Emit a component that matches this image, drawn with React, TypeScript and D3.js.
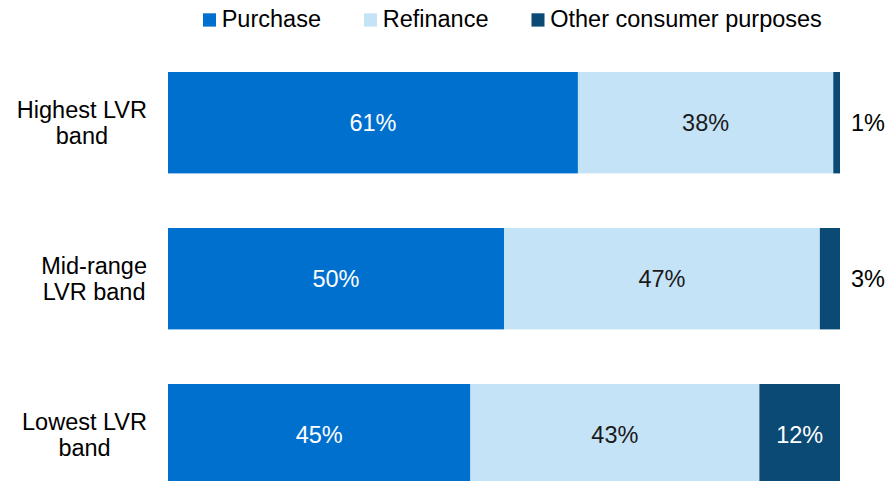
import React from "react";
import * as d3 from "d3";

const categories = [["Highest LVR", "band"], ["Mid-range", "LVR band"], ["Lowest LVR", "band"]];
const seriesNames = ["Purchase", "Refinance", "Other consumer purposes"];
const purchase = [61, 50, 45];
const refinance = [38, 47, 43];
const other = [1, 3, 12];
const colors = ["#0070CE", "#C5E3F7", "#0B4A75"];
const textColors = ["#ffffff", "#1a1a1a", "#ffffff"];

const FS = 23.5;
const font = "Arial, 'Liberation Sans', sans-serif";

function measure(t: string): number {
  const c = document.createElement("canvas").getContext("2d")!;
  c.font = `${FS}px ${font}`;
  return c.measureText(t).width;
}

export default function App() {
  const W = 895, H = 481;
  const x = d3.scaleLinear().domain([0, 100]).range([168, 840]);
  const keys = categories.map((c) => c.join(" "));
  const y = d3.scaleBand().domain(keys).range([44.7, 512.7]).paddingInner(0.35).paddingOuter(0.175);
  const rows = keys.map((k, i) => ({ k, Purchase: purchase[i], Refinance: refinance[i], Other: other[i] }));
  const stack = d3.stack<any>().keys(["Purchase", "Refinance", "Other"])(rows);

  // legend layout
  const legendItems: { x: number; name: string; color: string }[] = [];
  let lx = 203;
  seriesNames.forEach((n, i) => {
    legendItems.push({ x: lx, name: n, color: colors[i] });
    lx += 13 + 5.7 + measure(n) + 43;
  });

  const labelRight = 147;

  return (
    <svg width={W} height={H} style={{ position: "absolute", left: 0, top: 0 }} fontFamily={font}>
      <rect width={W} height={H} fill="#fff" />
      {legendItems.map((it) => (
        <g key={it.name}>
          <rect x={it.x} y={13.3} width={13} height={13.3} fill={it.color} />
          <text x={it.x + 18.7} y={27.3} fontSize={FS} fill="#000">{it.name}</text>
        </g>
      ))}
      {stack.map((s, si) => (
        <g key={si}>
          {s.map((d, di) => {
            const x0 = x(d[0]), x1 = x(d[1]);
            const yy = y(keys[di])!;
            const v = d[1] - d[0];
            const inside = x1 - x0 > 40;
            return (
              <g key={di}>
                <rect x={x0} y={yy} width={x1 - x0} height={y.bandwidth()} fill={colors[si]} />
                <text
                  x={inside ? (x0 + x1) / 2 : 868}
                  y={yy + y.bandwidth() / 2 + 8.2}
                  textAnchor="middle"
                  fontSize={FS}
                  fill={inside ? textColors[si] : "#000"}
                >
                  {v}%
                </text>
              </g>
            );
          })}
        </g>
      ))}
      {categories.map((c, i) => {
        const yy = y(keys[i])! + y.bandwidth() / 2;
        const w = Math.max(...c.map(measure));
        const cx = labelRight - w / 2;
        return (
          <text key={i} textAnchor="middle" fontSize={FS} fill="#000">
            <tspan x={cx} y={yy - 5.2}>{c[0]}</tspan>
            <tspan x={cx} y={yy + 21.5}>{c[1]}</tspan>
          </text>
        );
      })}
    </svg>
  );
}
